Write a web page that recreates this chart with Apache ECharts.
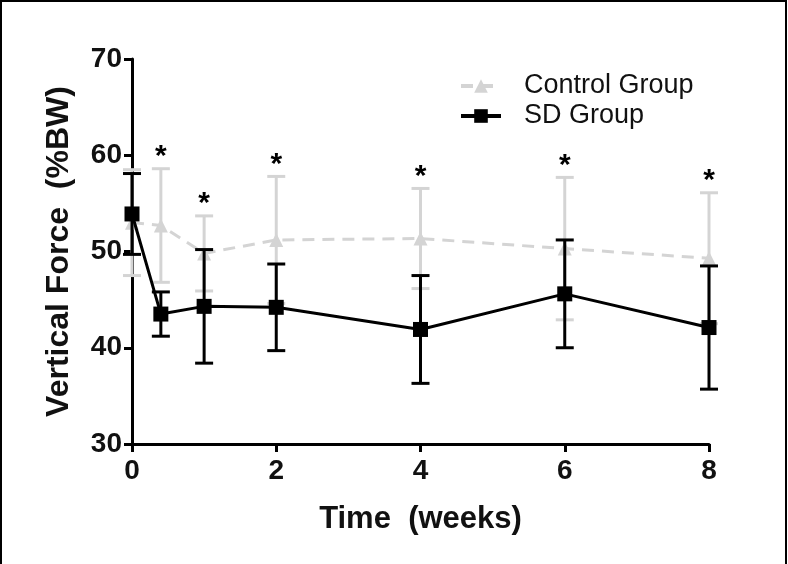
<!DOCTYPE html>
<html>
<head>
<meta charset="utf-8">
<script src="https://cdn.jsdelivr.net/npm/echarts@6/dist/echarts.min.js"></script>
<style>
html,body{margin:0;padding:0;background:#fff;}
#main{width:788px;height:564px;}
</style>
</head>
<body>
<div id="main"></div>
<script>
// Data
var weeks = [0, 0.4, 1, 2, 4, 6, 8];
var controlMean = [53.0, 52.7, 49.8, 51.2, 51.35, 50.3, 49.3];
var controlSD   = [5.5, 5.9, 3.9, 6.6, 5.2, 7.4, 6.8];
var sdMean = [53.9, 43.5, 44.3, 44.2, 41.9, 45.6, 42.1];
var sdSD   = [4.2, 2.3, 5.9, 4.5, 5.6, 5.6, 6.4];
var significant = [false, true, true, true, true, true, true];
var xTicks = [0, 2, 4, 6, 8];
var yTicks = [30, 40, 50, 60, 70];

var FONT = '"Liberation Sans", Arial, Helvetica, sans-serif';
var GRAY = '#d4d4d4';

function pairs(xs, ys) { return xs.map(function (x, i) { return [x, ys[i]]; }); }
function errData(xs, m, s) { return xs.map(function (x, i) { return [x, m[i] - s[i], m[i] + s[i]]; }); }

function errRender(color) {
  return function (params, api) {
    var x = api.value(0);
    var lo = api.coord([x, api.value(1)]);
    var hi = api.coord([x, api.value(2)]);
    var hw = 9;
    var st = { stroke: color, lineWidth: 3 };
    return {
      type: 'group',
      children: [
        { type: 'line', shape: { x1: lo[0], y1: lo[1], x2: hi[0], y2: hi[1] }, style: st },
        { type: 'line', shape: { x1: lo[0] - hw, y1: lo[1], x2: lo[0] + hw, y2: lo[1] }, style: st },
        { type: 'line', shape: { x1: hi[0] - hw, y1: hi[1], x2: hi[0] + hw, y2: hi[1] }, style: st }
      ]
    };
  };
}

var starData = [];
weeks.forEach(function (x, i) {
  if (significant[i]) starData.push([x, controlMean[i] + controlSD[i]]);
});

var chart = echarts.init(document.getElementById('main'), null, { renderer: 'canvas' });
chart.setOption({
  animation: false,
  backgroundColor: '#fff',
  textStyle: { fontFamily: FONT },
  grid: { left: 132, right: 79, top: 59, bottom: 120, containLabel: false },
  graphic: [{
    type: 'polyline',
    shape: { points: [[1, 564], [1, 1], [786, 1], [786, 564]] },
    style: { stroke: '#000', lineWidth: 2, fill: null },
    silent: true
  }],
  legend: {
    orient: 'vertical',
    left: 454,
    top: 66,
    itemWidth: 40,
    itemHeight: 17,
    itemGap: 0,
    lineStyle: { width: 4 },
    textStyle: { fontFamily: FONT, fontSize: 27, color: '#111', padding: [0, 0, 0, 18], lineHeight: 30 },
    data: ['Control Group', 'SD Group']
  },
  xAxis: {
    type: 'value',
    min: 0, max: 8, interval: 2,
    name: 'Time  (weeks)',
    nameLocation: 'middle',
    nameGap: 60,
    nameTextStyle: { fontFamily: FONT, fontSize: 31, fontWeight: 'bold', color: '#111' },
    axisLine: { lineStyle: { color: '#000', width: 3 } },
    axisTick: { length: 8, lineStyle: { color: '#000', width: 3 } },
    axisLabel: { fontFamily: FONT, fontSize: 28, fontWeight: 'bold', color: '#111', margin: 13,
      customValues: xTicks },
    splitLine: { show: false }
  },
  yAxis: {
    type: 'value',
    min: 30, max: 70, interval: 10,
    name: 'Vertical Force  (%BW)',
    nameLocation: 'middle',
    nameGap: 57,
    nameTextStyle: { fontFamily: FONT, fontSize: 32, fontWeight: 'bold', color: '#111' },
    axisLine: { lineStyle: { color: '#000', width: 3 } },
    axisTick: { length: 8, lineStyle: { color: '#000', width: 3 } },
    axisLabel: { fontFamily: FONT, fontSize: 28, fontWeight: 'bold', color: '#111', margin: 10,
      customValues: yTicks },
    splitLine: { show: false }
  },
  series: [
    {
      name: 'ctrlErr', type: 'custom', renderItem: errRender(GRAY),
      data: errData(weeks, controlMean, controlSD), z: 1, silent: true,
      encode: { x: 0, y: [1, 2] }
    },
    {
      name: 'Control Group', type: 'line', data: pairs(weeks, controlMean), z: 2,
      symbol: 'triangle', symbolSize: 14,
      itemStyle: { color: GRAY },
      lineStyle: { color: GRAY, width: 3, type: [12, 8] }
    },
    {
      name: 'sdErr', type: 'custom', renderItem: errRender('#000'),
      data: errData(weeks, sdMean, sdSD), z: 3, silent: true,
      encode: { x: 0, y: [1, 2] }
    },
    {
      name: 'SD Group', type: 'line', data: pairs(weeks, sdMean), z: 4,
      symbol: 'rect', symbolSize: 15,
      itemStyle: { color: '#000' },
      lineStyle: { color: '#000', width: 3 }
    },
    {
      name: 'sig', type: 'custom', z: 5, silent: true,
      data: starData,
      encode: { x: 0, y: 1 },
      renderItem: function (params, api) {
        var p = api.coord([api.value(0), api.value(1)]);
        return {
          type: 'text',
          style: { text: '*', x: p[0], y: p[1] + 3, align: 'center', verticalAlign: 'bottom',
            font: 'bold 30px ' + FONT, fill: '#000' }
        };
      }
    }
  ]
});
</script>
</body>
</html>
